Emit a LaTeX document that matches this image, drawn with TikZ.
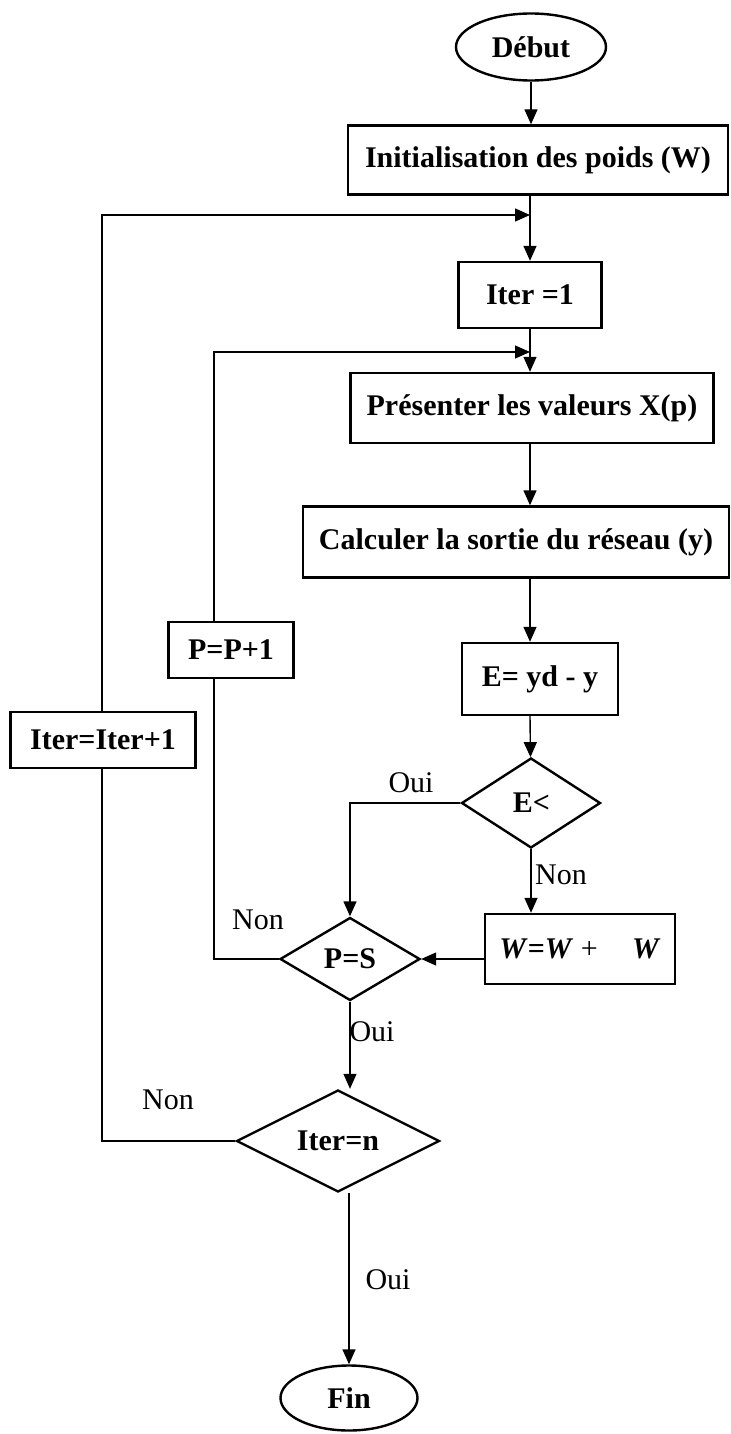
\documentclass[tikz,border=0pt]{standalone}
\usepackage{fontspec}
\setmainfont{Liberation Serif}
\usepackage{tikz}
\usetikzlibrary{shapes.geometric,arrows.meta,calc}
\tikzstyle{arrow} = [line width=0.7pt,-{Triangle[length=7.5pt,width=6.5pt]}]

\begin{document}
\begin{tikzpicture}[x=0.5pt, y=-0.5pt,
    base/.style={draw=black, line width=1.2pt, inner sep=0pt, text centered,
                 font=\fontsize{15}{17}\selectfont\bfseries},
    procbox/.style={base, rectangle},
    decision/.style={base, diamond},
    terminal/.style={base, ellipse},
    lbl/.style={font=\fontsize{15}{17}\selectfont, inner sep=0pt},
    line/.style={line width=0.7pt}
]
\useasboundingbox (0,0) rectangle (731,1434);
% main column
\node[terminal, minimum width=75pt, minimum height=33.5pt] (debut) at (531,47) {Début};
\node[procbox, minimum width=190pt, minimum height=34.5pt] (init) at (538,160) {Initialisation des poids (W)};
\node[procbox, minimum width=71.5pt, minimum height=33pt] (iter1) at (530,295) {Iter =1};
\node[procbox, minimum width=181.5pt, minimum height=35pt] (pres) at (532,408) {Présenter les valeurs X(p)};
\node[procbox, minimum width=213pt, minimum height=35.5pt] (calc) at (516,542) {Calculer la sortie du réseau (y)};
\node[procbox, minimum width=78pt, minimum height=36pt] (err) at (540,679) {E= yd - y};
\node[decision, minimum width=69.5pt, minimum height=45pt] (test) at (531,803) {E<\kern-0.5pt};
\node[procbox, minimum width=95pt, minimum height=35pt] (maj) at (580,949) {\textit{W}=\textit{W} {\mdseries +} \hspace{0.9em}\textit{W}};
\node[decision, minimum width=70pt, minimum height=41.5pt] (ps) at (350,959) {P=S};
\node[decision, minimum width=101.5pt, minimum height=45pt] (itern) at (338,1141) {Iter=n};
\node[terminal, minimum width=68.5pt, minimum height=32.5pt] (fin) at (349,1398) {Fin};
% loop boxes
\node[procbox, minimum width=62.5pt, minimum height=28pt] (incp) at (231,650) {P=P+1};
\node[procbox, minimum width=92.5pt, minimum height=28pt] (inciter) at (103,740) {Iter=Iter+1};

% labels
\node[lbl] (ouiE) at (411,783) {Oui};
\node[lbl] (nonE) at (561,875) {Non};
\node[lbl] (nonP) at (258,920) {Non};
\node[lbl] (ouiP) at (372,1032) {Oui};
\node[lbl] (nonI) at (168,1100) {Non};
\node[lbl] (ouiI) at (388,1280) {Oui};

% connectors
\draw[arrow] (debut) -- (debut |- init.north);
\draw[arrow] (init.south -| iter1) -- (iter1);
\draw[arrow] (iter1) -- (pres.north -| iter1);
\draw[arrow] (pres.south -| iter1) -- (calc.north -| iter1);
\draw[arrow] (calc.south -| iter1) -- (err.north -| iter1);
\draw[arrow] (err.south -| iter1) -- (test);
\draw[arrow] (test) -- (test |- maj.north);
\draw[arrow] (test.west) -| (ps.north);
\draw[arrow] (maj.west |- ps) -- (ps);
\draw[arrow] (ps) -- (ps |- itern.north);
\draw[arrow] (itern.south -| fin) -- (fin);

% feedback loops
\coordinate (retP) at (530,352);
\coordinate (cornerP) at (214,352);
\coordinate (retI) at (530,215);
\coordinate (cornerI) at (102,215);
\draw[line] (ps.west) -| (incp.south -| cornerP);
\draw[arrow] (incp.north -| cornerP) -- (cornerP) -- (retP);
\draw[line] (itern.west) -| (inciter.south -| cornerI);
\draw[arrow] (inciter.north -| cornerI) -- (cornerI) -- (retI);
\end{tikzpicture}
\end{document}
